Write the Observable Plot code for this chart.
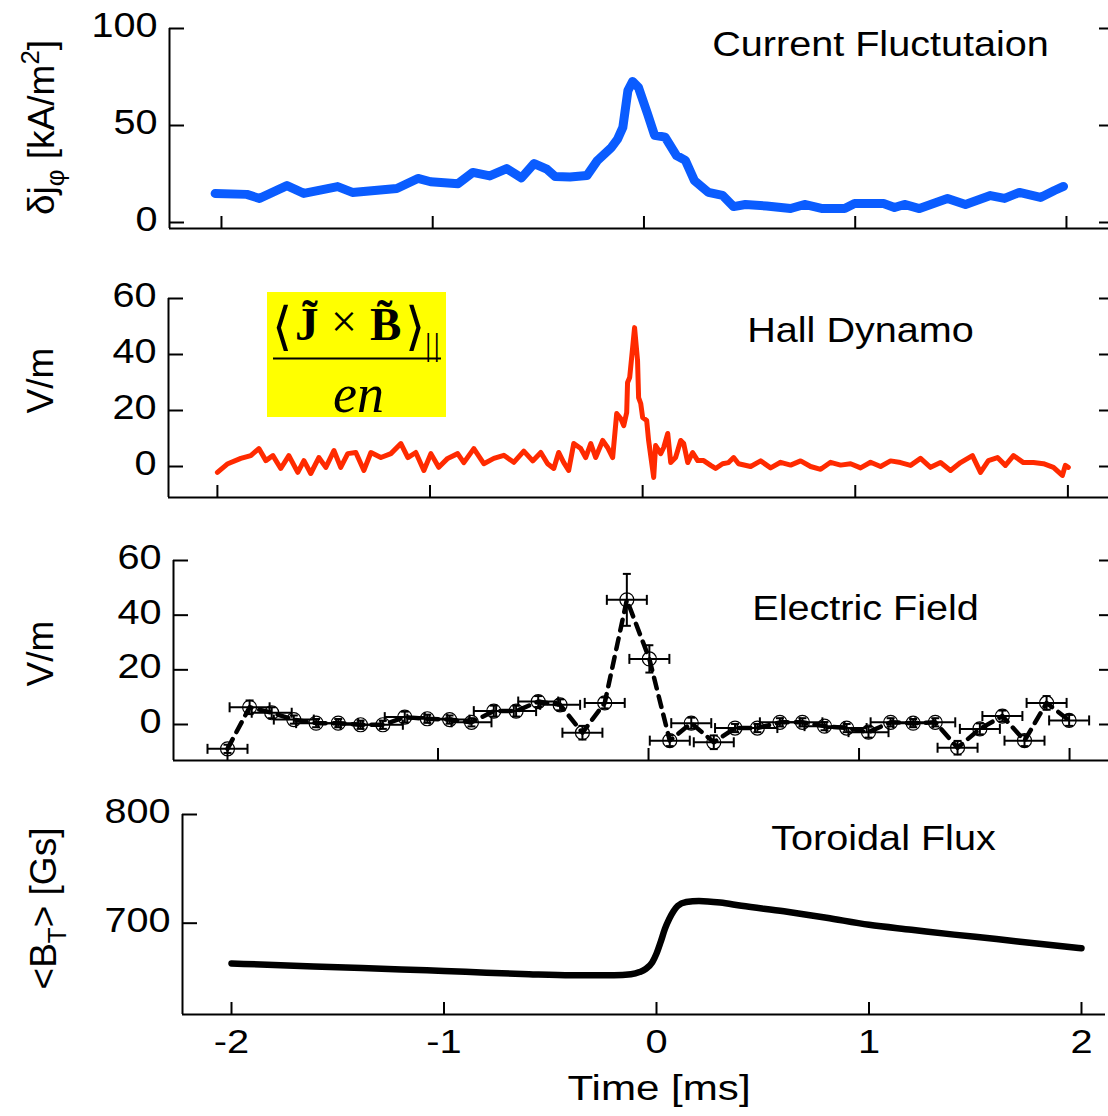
<!DOCTYPE html>
<html>
<head>
<meta charset="utf-8">
<script src="https://cdn.jsdelivr.net/npm/d3@7"></script>
<script src="https://cdn.jsdelivr.net/npm/@observablehq/plot@0.6"></script>
<style>
  body { margin: 0; background: #fff; }
  #fig { position: relative; width: 1108px; height: 1116px; overflow: hidden; background: #fff; }
  #fig > svg { position: absolute; left: 0; }
</style>
</head>
<body>
<div id="fig"></div>
<script>
// ---- shared ticks ----
const timeTicks = [-2, -1, 0, 1, 2];
const currentTicks = [0, 50, 100];
const hallTicks = [0, 20, 40, 60];
const fieldTicks = [0, 20, 40, 60];
const fluxTicks = [700, 800];

// ---- current fluctuation δj_φ [kA/m²] vs time [ms] ----
const currentT = [-2.03,-1.88,-1.82,-1.69,-1.61,-1.45,-1.38,-1.17,-1.07,-1.01,-0.88,-0.81,-0.73,-0.65,-0.58,-0.52,-0.46,-0.42,-0.35,-0.27,-0.22,-0.154,-0.125,-0.10,-0.076,-0.054,-0.026,0.017,0.05,0.10,0.154,0.196,0.239,0.305,0.372,0.424,0.48,0.58,0.694,0.76,0.845,0.95,0.997,1.134,1.186,1.233,1.304,1.437,1.522,1.64,1.707,1.777,1.877,1.943,1.986];
const currentV = [15,14.5,12.4,19,15,18.5,15.5,17.5,22.7,21,20,25.8,24,27.8,23,30.4,27.5,23.7,23.5,24.2,32,38.7,43,49,68,72.7,69.6,56,45,44,34.5,32,21.6,15.5,14,8.2,9.3,8.5,7.2,9.3,7.2,7.2,9.8,9.8,7.7,9.3,7.2,12.4,9.3,13.9,12.4,15.5,12.9,16.5,18.6];

// ---- Hall dynamo term [V/m] ----
const hallT = [-2.0,-1.951,-1.890,-1.843,-1.805,-1.772,-1.739,-1.702,-1.664,-1.622,-1.593,-1.561,-1.523,-1.490,-1.452,-1.420,-1.387,-1.349,-1.311,-1.278,-1.231,-1.184,-1.137,-1.104,-1.067,-1.029,-0.996,-0.959,-0.917,-0.870,-0.841,-0.794,-0.747,-0.700,-0.653,-0.606,-0.559,-0.517,-0.479,-0.447,-0.418,-0.395,-0.371,-0.348,-0.324,-0.291,-0.268,-0.244,-0.221,-0.188,-0.165,-0.141,-0.122,-0.103,-0.089,-0.075,-0.071,-0.061,-0.047,-0.038,-0.024,-0.019,-0.009,0,0.019,0.028,0.052,0.061,0.085,0.099,0.118,0.132,0.155,0.179,0.193,0.212,0.235,0.259,0.287,0.320,0.343,0.376,0.404,0.428,0.451,0.508,0.555,0.602,0.649,0.696,0.743,0.790,0.837,0.884,0.931,0.978,1.025,1.072,1.119,1.166,1.213,1.260,1.307,1.354,1.401,1.448,1.495,1.551,1.589,1.626,1.669,1.706,1.744,1.791,1.838,1.885,1.932,1.974,1.988,2.002];
const hallV = [-2.1,1,2.9,3.9,6.4,2.1,3.9,-0.7,3.9,-2.1,2.1,-2.5,3.2,-0.3,5.7,-0.3,4.6,5,-1.4,5,3.2,4.6,8.2,3.2,5,-1.4,4.6,-0.3,2.9,4.6,1.4,6.4,1,2.9,4,1.5,5.5,2,5,1,-0.7,5,1.4,-1.4,8.2,6.4,3.2,8.2,3.2,9.3,6.8,3.2,18.9,17.1,14.6,19.3,30,31.8,42.5,49.6,37.9,24.6,22.5,17.5,16.4,9.3,-3.9,7.5,4.6,6.8,11.8,1.4,3.2,9.3,8.2,1.4,5,2.1,2.1,0.4,-0.7,1,1.4,3.2,1,0,2,-0.5,1.5,0.5,2,0,-1,1.5,0.5,1,-0.5,1.5,0,2,1.4,0.4,2.9,-0.3,1.4,-1.4,1.4,3.9,-2.1,2.1,3.2,0.4,3.9,1.4,1.4,1,-0.3,-3.2,0.4,-0.3];

// ---- measured electric field [V/m] with error bars ----
const fieldT = [-2.0,-1.895,-1.79,-1.685,-1.579,-1.474,-1.368,-1.262,-1.158,-1.051,-0.945,-0.841,-0.735,-0.629,-0.524,-0.42,-0.314,-0.208,-0.103,0.004,0.101,0.203,0.310,0.411,0.517,0.624,0.731,0.836,0.941,1.045,1.150,1.257,1.362,1.468,1.574,1.681,1.786,1.891,1.998];
const fieldV = [-8.9,6.3,4.3,1.8,0.5,0.5,-0.1,-0.1,2.7,2.1,1.8,0.8,4.9,4.9,8.4,7.2,-3.0,7.9,45.6,24,-5.9,0.5,-6.5,-1.3,-1.3,0.8,0.8,-0.6,-1.3,-2.8,0.8,0.5,0.8,-8.5,-1.6,3.1,-5.9,7.9,1.5];
const fieldErr = [1.5,2.5,2,1.5,1.5,1.5,1.5,1.5,2,1.5,1.5,1.5,2,2,2,2,2.5,2,9.5,5,2,2,2.5,1.5,1.5,1.5,1.5,1.5,1.5,2,1.5,1.5,1.5,2.5,2,2,2,2.5,2];
const fieldTimeErr = 0.095; // half width of each time bin [ms]

// ---- toroidal flux <B_T> [Gs] ----
const fluxT = [-2.0,-1.8,-1.5,-1.2,-1.0,-0.8,-0.6,-0.4,-0.2,-0.12,-0.08,-0.05,-0.02,0.0,0.02,0.04,0.06,0.08,0.1,0.14,0.2,0.3,0.4,0.6,0.8,1.0,1.2,1.4,1.6,1.8,2.0];
const fluxV = [663,661.5,659.5,657.5,656,654.5,653,652,652,653,655,658,664,672,683,695,704,711,716,719.5,720.5,719,716,711,705,698.5,694,689.5,685.5,681,677];

// ---- labels (rich text parts: [string, "sub"|"sup"|undefined]) ----
const currentLabel = [["δj"], ["φ", "sub"], [" [kA/m"], ["2", "sup"], ["]"]];
const hallLabel = [["V/m"]];
const fieldLabel = [["V/m"]];
const fluxLabel = [["<B"], ["T", "sub"], ["> [Gs]"]];
const timeLabel = "Time [ms]";

const zip = (xs, ys) => xs.map((t, i) => ({t, v: ys[i]}));
const currentData = zip(currentT, currentV);
const hallData = zip(hallT, hallV);
const fluxData = zip(fluxT, fluxV);
const fieldData = fieldT.map((t, i) => ({t, v: fieldV[i], e: fieldErr[i]}));

const FONT = "'Liberation Sans', Arial, Helvetica, sans-serif";
const fig = document.getElementById("fig");
const plain = parts => parts.map(p => p[0]).join("");

// end caps for error bars
const capV = {draw(ctx, size) { const r = Math.sqrt(size / Math.PI); ctx.moveTo(0, -r); ctx.lineTo(0, r); }};
const capH = {draw(ctx, size) { const r = Math.sqrt(size / Math.PI); ctx.moveTo(-r, 0); ctx.lineTo(r, 0); }};

function panel(cfg) {
  const {top, height, marginTop, marginBottom, marginLeft, marginRight} = cfg;
  const [x0] = cfg.xDomain, [y0] = cfg.yDomain;
  const marks = [
    // axis lines
    Plot.ruleX([x0], {stroke: "#000", strokeWidth: 2}),
    Plot.ruleY([y0], {stroke: "#000", strokeWidth: 2}),
    // inward ticks
    Plot.axisY(cfg.yTicks, {anchor: "left", tickSize: -15, strokeWidth: 2, label: null, tickFormat: () => ""}),
    Plot.axisX(timeTicks, {anchor: "bottom", tickSize: -12, strokeWidth: 2, label: null, tickFormat: () => ""}),
    // tick labels
    Plot.axisY(cfg.yTicks, {anchor: "left", tickSize: 0, tickPadding: 12, dy: -3, fontSize: 36, label: null, tickFormat: d => String(d)}),
    ...(cfg.xLabels ? [Plot.axisX(timeTicks, {anchor: "bottom", tickSize: 0, tickPadding: 14, fontSize: 34, label: null, tickFormat: d => String(d)})] : []),
    ...(cfg.rightTicks ? [Plot.axisY(cfg.yTicks, {anchor: "right", tickSize: -10, strokeWidth: 2, label: null, tickFormat: () => ""})] : []),
    // panel title
    Plot.text([cfg.title], {text: d => d, frameAnchor: "top-left", dx: cfg.titleX - marginLeft, dy: cfg.titleY - top - marginTop,
      textAnchor: "middle", lineAnchor: "bottom", fontSize: 36}),
    // y label
    Plot.text([plain(cfg.ylabel)], {text: d => d, frameAnchor: "left", rotate: -90, textAnchor: "middle", lineAnchor: "bottom",
      dx: cfg.ylabelX - marginLeft, dy: cfg.ylabelY - (top + (marginTop + height - marginBottom) / 2), fontSize: 37}),
    ...cfg.marks
  ];
  const svg = Plot.plot({
    width: 1108, height, marginTop, marginBottom, marginLeft, marginRight,
    x: {domain: cfg.xDomain}, y: {domain: cfg.yDomain},
    style: {fontFamily: FONT, fontSize: "36px", color: "#000", background: "transparent", overflow: "visible"},
    marks
  });
  svg.style.top = top + "px";
  fig.appendChild(svg);
  richText(svg, cfg.ylabel, 37);
  widenText(svg);
  return svg;
}

// replace a plain label with tspans carrying sub/superscripts
function richText(svg, parts, fs) {
  const s = plain(parts);
  for (const t of svg.querySelectorAll("text")) {
    if (t.textContent !== s || parts.length === 1) continue;
    t.textContent = "";
    let shift = 0;
    for (const [str, kind] of parts) {
      const ts = document.createElementNS("http://www.w3.org/2000/svg", "tspan");
      const want = kind === "sub" ? 0.28 * fs : kind === "sup" ? -0.38 * fs : 0;
      if (want !== shift) ts.setAttribute("dy", (want - shift) + "px");
      shift = want;
      if (kind) ts.setAttribute("font-size", (0.7 * fs) + "px");
      ts.textContent = str;
      t.appendChild(ts);
    }
  }
}

// the lettering of this figure is slightly wide; stretch horizontal text about its anchor
function widenText(svg) {
  for (const t of svg.querySelectorAll("text")) {
    const tr = t.getAttribute("transform");
    if (!tr || tr.includes("rotate")) continue;
    const wide = t.closest('[aria-label="x-axis tick label"]') || t.textContent === timeLabel;
    t.setAttribute("transform", `${tr} scale(${wide ? 1.17 : 1.1},1)`);
  }
}

// 1. current fluctuation
panel({
  top: 0, height: 260, marginTop: 28, marginBottom: 32, marginLeft: 169, marginRight: 0,
  xDomain: [-2.246, 2.199], yDomain: [-3.09, 100], yTicks: currentTicks, rightTicks: true,
  title: "Current Fluctutaion", titleX: 880, titleY: 55,
  ylabel: currentLabel, ylabelX: 53, ylabelY: 127,
  marks: [Plot.line(currentData, {x: "t", y: "v", stroke: "#0a5cff", strokeWidth: 9, strokeLinejoin: "round", strokeLinecap: "round"})]
});

// 2. Hall dynamo
panel({
  top: 260, height: 270, marginTop: 38, marginBottom: 33, marginLeft: 168, marginRight: 0,
  xDomain: [-2.230, 2.191], yDomain: [-11.07, 60], yTicks: hallTicks, rightTicks: true,
  title: "Hall Dynamo", titleX: 860, titleY: 341,
  ylabel: hallLabel, ylabelX: 52, ylabelY: 380,
  marks: [Plot.line(hallData, {x: "t", y: "v", stroke: "#ff2a00", strokeWidth: 5, strokeLinejoin: "round"})]
});

// 3. electric field with error bars
panel({
  top: 530, height: 260, marginTop: 30, marginBottom: 30, marginLeft: 173, marginRight: 0,
  xDomain: [-2.2565, 2.185], yDomain: [-13.17, 60], yTicks: fieldTicks, rightTicks: true,
  title: "Electric Field", titleX: 865, titleY: 619,
  ylabel: fieldLabel, ylabelX: 52, ylabelY: 653,
  marks: [
    Plot.line(fieldData, {x: "t", y: "v", stroke: "#000", strokeWidth: 4.5, strokeDasharray: "11,8"}),
    Plot.ruleY(fieldData, {y: "v", x1: d => d.t - fieldTimeErr, x2: d => d.t + fieldTimeErr, stroke: "#000", strokeWidth: 2}),
    Plot.ruleX(fieldData, {x: "t", y1: d => d.v - d.e, y2: d => d.v + d.e, stroke: "#000", strokeWidth: 2}),
    Plot.dot(fieldData, {x: d => d.t - fieldTimeErr, y: "v", symbol: capV, r: 5, stroke: "#000", strokeWidth: 2, fill: "none"}),
    Plot.dot(fieldData, {x: d => d.t + fieldTimeErr, y: "v", symbol: capV, r: 5, stroke: "#000", strokeWidth: 2, fill: "none"}),
    Plot.dot(fieldData, {x: "t", y: d => d.v - d.e, symbol: capH, r: 4, stroke: "#000", strokeWidth: 2, fill: "none"}),
    Plot.dot(fieldData, {x: "t", y: d => d.v + d.e, symbol: capH, r: 4, stroke: "#000", strokeWidth: 2, fill: "none"}),
    Plot.dot(fieldData, {x: "t", y: "v", r: 7, stroke: "#000", strokeWidth: 1.2, fill: "none"})
  ]
});

// 4. toroidal flux
panel({
  top: 790, height: 326, marginTop: 24, marginBottom: 102, marginLeft: 182, marginRight: 3,
  xDomain: [-2.2306, 2.113], yDomain: [616, 800], yTicks: fluxTicks, rightTicks: false, xLabels: true,
  title: "Toroidal Flux", titleX: 883, titleY: 849,
  ylabel: fluxLabel, ylabelX: 55, ylabelY: 908,
  marks: [
    Plot.line(fluxData, {x: "t", y: "v", stroke: "#000", strokeWidth: 6.5, curve: "monotone-x", strokeLinecap: "round"}),
    Plot.text([timeLabel], {text: d => d, frameAnchor: "bottom", dx: 15, dy: 85, lineAnchor: "bottom", fontSize: 36})
  ]
});

// formula annotation for the Hall dynamo term: <J~ x B~>_|| / en
(function formula() {
  const serif = "'Liberation Serif', 'Times New Roman', serif";
  const ox = 10, oy = 15; // yellow box offset inside this overlay
  const f = d3.select(fig).append("svg")
    .attr("width", 200).attr("height", 155)
    .style("left", (267 - ox) + "px").style("top", (292 - oy) + "px")
    .style("overflow", "visible");
  f.append("rect").attr("x", ox).attr("y", oy).attr("width", 179).attr("height", 125).attr("fill", "#ffff00");
  const g = f.append("g").attr("transform", `translate(${ox},${oy})`);
  const t = (s, x, y, size, opts = {}) => g.append("text")
    .attr("x", x).attr("y", y).attr("font-size", size)
    .attr("font-family", opts.family || serif)
    .attr("font-weight", opts.weight || "normal")
    .attr("font-style", opts.style || "normal")
    .attr("letter-spacing", opts.spacing || 0)
    .text(s);
  t("⟨", 5, 52, 52, {family: "'DejaVu Sans', serif"});
  t("J\u0303", 28, 48, 47, {weight: "bold"});
  t("×", 64, 45, 46);
  t("B\u0303", 103, 48, 47, {weight: "bold"});
  t("⟩", 138, 52, 52, {family: "'DejaVu Sans', serif"});
  t("||", 158, 63, 32, {spacing: 2});
  g.append("line").attr("x1", 6).attr("x2", 174).attr("y1", 66.5).attr("y2", 66.5)
    .attr("stroke", "#000").attr("stroke-width", 2);
  t("en", 66, 120, 54, {style: "italic"});
})();
</script>
</body>
</html>
